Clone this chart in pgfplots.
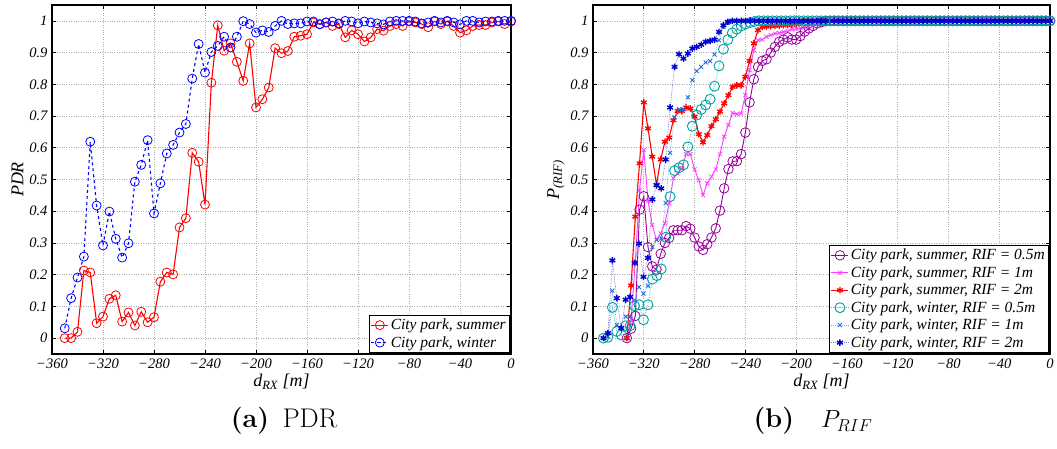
\documentclass[border=0pt]{standalone}
\usepackage{fontspec}
\newfontfamily\tnr{Liberation Serif}
\usepackage{pgfplots}
\usepackage{pgfplotstable}
\pgfplotsset{compat=1.18}

\definecolor{cpurp}{RGB}{153,0,153}
\definecolor{cmag}{RGB}{255,60,255}
\definecolor{cred}{RGB}{255,0,0}
\definecolor{cteal}{RGB}{0,160,160}
\definecolor{cbx}{RGB}{30,110,220}
\definecolor{cstar}{RGB}{0,0,210}

% ---------- left panel ----------
\pgfplotstableread{
x y
-350 0
-345 0
-340 0.02
-335 0.213
-330 0.207
-325 0.047
-320 0.068
-315 0.124
-310 0.135
-305 0.052
-300 0.081
-295 0.04
-290 0.083
-285 0.05
-280 0.066
-275 0.178
-270 0.207
-265 0.201
-260 0.349
-255 0.378
-250 0.584
-245 0.556
-240 0.421
-235 0.805
-230 0.986
-225 0.906
-220 0.929
-215 0.871
-210 0.811
-205 0.929
-200 0.727
-195 0.753
-190 0.79
-185 0.914
-180 0.898
-175 0.905
-170 0.95
-165 0.953
-160 0.958
-155 0.995
-150 0.99
-145 0.995
-140 0.984
-135 0.99
-130 0.948
-125 0.97
-120 0.958
-115 0.935
-110 0.948
-105 0.974
-100 0.969
-95 0.984
-90 0.99
-85 0.984
-80 0.998
-75 0.995
-70 0.99
-65 0.98
-60 0.998
-55 0.99
-50 0.998
-45 0.984
-40 0.963
-35 0.97
-30 0.984
-25 0.987
-20 0.987
-15 0.995
-10 0.998
-5 0.99
0 0.998
}\pdrsummer

\pgfplotstableread{
x y
-350 0.031
-345 0.126
-340 0.191
-335 0.257
-330 0.619
-325 0.418
-320 0.292
-315 0.399
-310 0.313
-305 0.254
-300 0.299
-295 0.493
-290 0.546
-285 0.624
-280 0.393
-275 0.488
-270 0.582
-265 0.609
-260 0.648
-255 0.675
-250 0.818
-245 0.927
-240 0.837
-235 0.902
-230 0.921
-225 0.95
-220 0.916
-215 0.95
-210 0.999
-205 0.99
-200 0.963
-195 0.97
-190 0.965
-185 0.984
-180 1.0
-175 0.99
-170 0.992
-165 0.992
-160 0.998
-155 0.998
-150 0.989
-145 0.995
-140 0.998
-135 0.992
-130 1.0
-125 0.998
-120 0.992
-115 0.998
-110 0.995
-105 0.992
-100 0.989
-95 0.998
-90 1.0
-85 1.0
-80 1.0
-75 0.998
-70 0.992
-65 0.995
-60 1.0
-55 0.995
-50 1.0
-45 0.995
-40 0.989
-35 1.0
-30 1.0
-25 0.995
-20 0.998
-15 0.998
-10 1.0
-5 1.0
0 1.0
}\pdrwinter

% ---------- right panel ----------
\pgfplotstableread{
x y
-333.33 0
-330 0.03
-326.67 0.07
-323.33 0.405
-320 0.447
-316.67 0.287
-313.33 0.226
-310 0.216
-306.67 0.266
-303.33 0.30
-300 0.316
-296.67 0.34
-293.33 0.34
-290 0.34
-286.67 0.353
-283.33 0.345
-280 0.317
-276.67 0.289
-273.33 0.278
-270 0.296
-266.67 0.317
-263.33 0.346
-260 0.402
-256.67 0.472
-253.33 0.533
-250 0.557
-246.67 0.558
-243.33 0.58
-240 0.648
-236.67 0.743
-233.33 0.816
-230 0.855
-226.67 0.874
-223.33 0.879
-220 0.9
-216.67 0.918
-213.33 0.934
-210 0.941
-206.67 0.948
-203.33 0.941
-200 0.941
-196.67 0.952
-193.33 0.966
-190 0.976
-186.67 0.984
-183.33 0.992
-180 0.996
-176.67 0.999
-173.33 1
}\rpurp

\pgfplotstableread{
x y
-333.33 0
-330 0.06
-326.67 0.24
-323.33 0.467
-320 0.593
-316.67 0.433
-313.33 0.357
-310 0.31
-306.67 0.33
-303.33 0.362
-300 0.425
-296.67 0.504
-293.33 0.519
-290 0.535
-286.67 0.58
-283.33 0.58
-280 0.532
-276.67 0.498
-273.33 0.451
-270 0.488
-266.67 0.509
-263.33 0.532
-260 0.58
-256.67 0.635
-253.33 0.672
-250 0.71
-246.67 0.706
-243.33 0.708
-240 0.766
-236.67 0.845
-233.33 0.908
-230 0.939
-226.67 0.941
-223.33 0.95
-220 0.955
-216.67 0.96
-213.33 0.962
-210 0.965
-206.67 0.968
-203.33 0.973
-200 0.975
-196.67 0.978
-193.33 0.98
-190 0.983
-186.67 0.986
-183.33 0.99
-180 0.993
-176.67 0.996
-173.33 1
}\rmag

\pgfplotstableread{
x y
-333.33 0
-330 0.166
-326.67 0.383
-323.33 0.551
-320 0.743
-316.67 0.661
-313.33 0.572
-310 0.483
-306.67 0.563
-303.33 0.619
-300 0.632
-296.67 0.687
-293.33 0.716
-290 0.716
-286.67 0.727
-283.33 0.724
-280 0.698
-276.67 0.643
-273.33 0.617
-270 0.64
-266.67 0.668
-263.33 0.69
-260 0.714
-256.67 0.74
-253.33 0.766
-250 0.792
-246.67 0.797
-243.33 0.797
-240 0.824
-236.67 0.874
-233.33 0.929
-230 0.971
-226.67 0.981
-223.33 0.982
-220 0.983
-216.67 0.984
-213.33 0.985
-210 0.986
-206.67 0.987
-203.33 0.988
-200 0.99
-196.67 0.995
-193.33 1
-190 1
-186.67 1
-183.33 1
-180 1
-176.67 1
-173.33 1
}\rred

\pgfplotstableread{
x y
-351.75 0
-348.25 0.003
-344.75 0.097
-341.25 0.021
-337.75 0.01
-334.25 0.039
-330.75 0.039
-327.25 0.102
-323.75 0.105
-320.25 0.058
-316.75 0.105
-313.25 0.186
-309.75 0.197
-306.25 0.218
-302.75 0.318
-299.25 0.446
-295.75 0.528
-292.25 0.537
-288.75 0.546
-285.25 0.603
-281.75 0.668
-278.25 0.703
-274.75 0.721
-271.25 0.735
-267.75 0.753
-264.25 0.794
-260.75 0.858
-257.25 0.911
-253.75 0.941
-250.25 0.962
-246.75 0.974
-243.25 0.984
-239.75 0.99
-236.25 0.995
-232.75 0.998
-229.25 1
-225.75 1
-222.25 1
-218.75 1
-215.25 1
-211.75 1
-208.25 1
-204.75 1
-201.25 1
-197.75 1
-194.25 1
-190.75 1
-187.25 1
-183.75 1
-180.25 1
-176.75 1
-173.25 1
}\rteal

\pgfplotstableread{
x y
-351.75 0
-348.25 0.005
-344.75 0.15
-341.25 0.042
-337.75 0.03
-334.25 0.068
-330.75 0.068
-327.25 0.119
-323.75 0.161
-320.25 0.14
-316.75 0.165
-313.25 0.287
-309.75 0.31
-306.25 0.314
-302.75 0.426
-299.25 0.584
-295.75 0.696
-292.25 0.721
-288.75 0.721
-285.25 0.759
-281.75 0.813
-278.25 0.842
-274.75 0.855
-271.25 0.869
-267.75 0.873
-264.25 0.894
-260.75 0.939
-257.25 0.981
-253.75 0.994
-250.25 1
-246.75 1
-243.25 1
-239.75 1
-236.25 1
-232.75 1
-229.25 1
-225.75 1
-222.25 1
-218.75 1
-215.25 1
-211.75 1
-208.25 1
-204.75 1
-201.25 1
-197.75 1
-194.25 1
-190.75 1
-187.25 1
-183.75 1
-180.25 1
-176.75 1
-173.25 1
}\rbx

\pgfplotstableread{
x y
-351.75 0
-348.25 0.016
-344.75 0.245
-341.25 0.126
-337.75 0.032
-334.25 0.121
-330.75 0.13
-327.25 0.237
-323.75 0.298
-320.25 0.193
-316.75 0.253
-313.25 0.437
-309.75 0.482
-306.25 0.472
-302.75 0.563
-299.25 0.727
-295.75 0.855
-292.25 0.895
-288.75 0.881
-285.25 0.897
-281.75 0.913
-278.25 0.918
-274.75 0.925
-271.25 0.934
-267.75 0.937
-264.25 0.941
-260.75 0.965
-257.25 0.986
-253.75 0.997
-250.25 1
-246.75 1
-243.25 1
-239.75 1
-236.25 1
-232.75 1
-229.25 1
-225.75 1
-222.25 1
-218.75 1
-215.25 1
-211.75 1
-208.25 1
-204.75 1
-201.25 1
-197.75 1
-194.25 1
-190.75 1
-187.25 1
-183.75 1
-180.25 1
-176.75 1
-173.25 1
}\rstar

% shared tail: all curves equal 1 from -170 m to 0 m
\pgfplotstableread{
x y
-170 1
-166.67 1
-163.33 1
-160 1
-156.67 1
-153.33 1
-150 1
-146.67 1
-143.33 1
-140 1
-136.67 1
-133.33 1
-130 1
-126.67 1
-123.33 1
-120 1
-116.67 1
-113.33 1
-110 1
-106.67 1
-103.33 1
-100 1
-96.67 1
-93.33 1
-90 1
-86.67 1
-83.33 1
-80 1
-76.67 1
-73.33 1
-70 1
-66.67 1
-63.33 1
-60 1
-56.67 1
-53.33 1
-50 1
-46.67 1
-43.33 1
-40 1
-36.67 1
-33.33 1
-30 1
-26.67 1
-23.33 1
-20 1
-16.67 1
-13.33 1
-10 1
-6.67 1
-3.33 1
0 1
}\rtail

\pgfplotsset{
  panel/.style={
    scale only axis,
    height=349pt,
    xmin=-360, xmax=0, ymin=-0.05, ymax=1.05,
    xtick={-360,-320,-280,-240,-200,-160,-120,-80,-40,0},
    xticklabels={−360,−320,−280,−240,−200,−160,−120,−80,−40,0},
    ytick={0,0.1,0.2,0.3,0.4,0.5,0.6,0.7,0.8,0.9,1},
    yticklabels={0,0.1,0.2,0.3,0.4,0.5,0.6,0.7,0.8,0.9,1},
    tick align=inside, tick pos=both,
    major tick length=4pt,
    grid=major,
    major grid style={dotted, gray!65, line width=0.7pt},
    axis line style={line width=1.1pt},
    tick style={line width=0.6pt, black},
    ticklabel style={font=\tnr\itshape\fontsize{14.5}{14.5}\selectfont},
    xticklabel style={yshift=-1pt},
    yticklabel style={xshift=-1pt},
    label style={font=\tnr\itshape\fontsize{18}{18}\selectfont},
    xlabel style={yshift=1pt},
    ylabel style={yshift=-1pt},
    legend cell align=left,
    legend style={font=\tnr\itshape\fontsize{15.5}{17}\selectfont,
      draw=black, line width=0.8pt, inner sep=1.5pt,
      row sep=1.2pt},
    legend image post style={line width=0.8pt},
  }
}

\begin{document}
\begin{tikzpicture}
\path[use as bounding box] (0,0) rectangle (1057pt,448pt);

\begin{axis}[panel,
  at={(52pt,94pt)}, anchor=south west, width=459pt,
  xlabel={d\textsubscript{RX} [m]},
  ylabel={PDR},
  legend style={at={(0.997,0.004)}, anchor=south east},
]
\addplot[cred, line width=1.1pt, mark=o, mark size=4.5pt,
  mark options={solid, line width=0.8pt}] table[x=x,y=y]{\pdrsummer};
\addlegendentry{City park, summer}
\addplot[blue, dashed, line width=1.1pt, mark=o, mark size=4.5pt,
  mark options={solid, line width=0.8pt}] table[x=x,y=y]{\pdrwinter};
\addlegendentry{City park, winter}
\end{axis}

\begin{axis}[panel,
  at={(593pt,94pt)}, anchor=south west, width=457pt,
  xlabel={d\textsubscript{RX} [m]},
  ylabel={P\textsubscript{(RIF)}},
  legend style={at={(0.997,0.004)}, anchor=south east},
]
\addplot[cpurp, line width=0.9pt, mark=o, mark size=4.8pt,
  mark options={solid, line width=0.8pt}] table[x=x,y=y]{\rpurp};
\addlegendentry{City park, summer, RIF = 0.5m}
\addplot[cmag, line width=0.9pt, mark=x, mark size=2.8pt,
  mark options={solid, line width=0.8pt}] table[x=x,y=y]{\rmag};
\addlegendentry{City park, summer, RIF = 1m}
\addplot[cred, line width=1.1pt, mark=asterisk, mark size=3.3pt,
  mark options={solid, line width=1.3pt}] table[x=x,y=y]{\rred};
\addlegendentry{City park, summer, RIF = 2m}
\addplot[cteal!70, densely dotted, line width=0.7pt, mark=o, mark size=5pt,
  mark options={solid, line width=0.9pt, draw=cteal}] table[x=x,y=y]{\rteal};
\addlegendentry{City park, winter, RIF = 0.5m}
\addplot[cbx!60, densely dotted, line width=0.7pt, mark=x, mark size=2.8pt,
  mark options={solid, line width=0.9pt, draw=cbx}] table[x=x,y=y]{\rbx};
\addlegendentry{City park, winter, RIF = 1m}
\addplot[cstar!55, densely dotted, line width=0.7pt, mark=asterisk, mark size=3.3pt,
  mark options={solid, line width=1.4pt, draw=cstar}] table[x=x,y=y]{\rstar};
\addlegendentry{City park, winter, RIF = 2m}
% common tail where every curve is at 1
\addplot[forget plot, cpurp, line width=0.9pt, mark=o, mark size=4.8pt, mark options={solid}] table[x=x,y=y]{\rtail};
\addplot[forget plot, cmag, line width=0.9pt, mark=x, mark size=2.8pt, mark options={solid}] table[x=x,y=y]{\rtail};
\addplot[forget plot, cred, line width=1.1pt, mark=asterisk, mark size=3.3pt, mark options={solid, line width=1.3pt}] table[x=x,y=y]{\rtail};
\addplot[forget plot, cteal, line width=0.7pt, mark=o, mark size=5pt, mark options={solid, line width=0.9pt}] table[x=x,y=y]{\rtail};
\addplot[forget plot, cbx, line width=0.7pt, mark=x, mark size=2.8pt, mark options={solid, line width=0.9pt}] table[x=x,y=y]{\rtail};
\addplot[forget plot, cstar, line width=0.7pt, mark=asterisk, mark size=3.3pt, mark options={solid, line width=1.4pt}] table[x=x,y=y]{\rtail};
\end{axis}

\node[font=\fontsize{27}{30}\selectfont] at (284pt,27pt) {\textbf{(a)}\enspace PDR};
\node[font=\fontsize{27}{30}\selectfont] at (813pt,27pt) {\textbf{(b)}\quad $P_{RIF}$};
\end{tikzpicture}
\end{document}
